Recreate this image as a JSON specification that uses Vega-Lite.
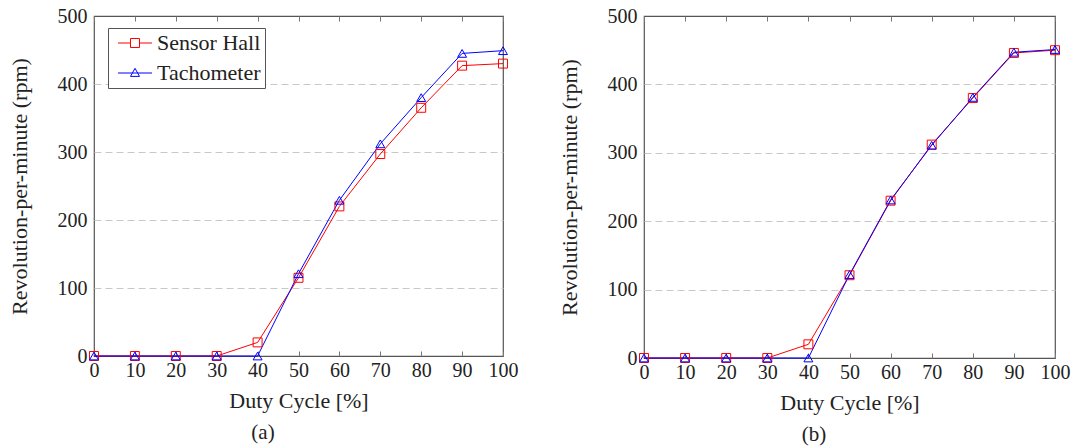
{
  "$schema": "https://vega.github.io/schema/vega-lite/v6.json",
  "padding": {"left": 7, "top": 5, "right": 4, "bottom": 0},
  "spacing": 38,
  "datasets": {
    "panelA": [
      {"duty": 0, "series": "Sensor Hall", "rpm": 0},
      {"duty": 10, "series": "Sensor Hall", "rpm": 0},
      {"duty": 20, "series": "Sensor Hall", "rpm": 0},
      {"duty": 30, "series": "Sensor Hall", "rpm": 0},
      {"duty": 40, "series": "Sensor Hall", "rpm": 20},
      {"duty": 50, "series": "Sensor Hall", "rpm": 115},
      {"duty": 60, "series": "Sensor Hall", "rpm": 220},
      {"duty": 70, "series": "Sensor Hall", "rpm": 297},
      {"duty": 80, "series": "Sensor Hall", "rpm": 365},
      {"duty": 90, "series": "Sensor Hall", "rpm": 427},
      {"duty": 100, "series": "Sensor Hall", "rpm": 430},
      {"duty": 0, "series": "Tachometer", "rpm": 0},
      {"duty": 10, "series": "Tachometer", "rpm": 0},
      {"duty": 20, "series": "Tachometer", "rpm": 0},
      {"duty": 30, "series": "Tachometer", "rpm": 0},
      {"duty": 40, "series": "Tachometer", "rpm": 0},
      {"duty": 50, "series": "Tachometer", "rpm": 121},
      {"duty": 60, "series": "Tachometer", "rpm": 229},
      {"duty": 70, "series": "Tachometer", "rpm": 312},
      {"duty": 80, "series": "Tachometer", "rpm": 380},
      {"duty": 90, "series": "Tachometer", "rpm": 445},
      {"duty": 100, "series": "Tachometer", "rpm": 449}
    ],
    "panelB": [
      {"duty": 0, "series": "Sensor Hall", "rpm": 0},
      {"duty": 10, "series": "Sensor Hall", "rpm": 0},
      {"duty": 20, "series": "Sensor Hall", "rpm": 0},
      {"duty": 30, "series": "Sensor Hall", "rpm": 0},
      {"duty": 40, "series": "Sensor Hall", "rpm": 20},
      {"duty": 50, "series": "Sensor Hall", "rpm": 121},
      {"duty": 60, "series": "Sensor Hall", "rpm": 230},
      {"duty": 70, "series": "Sensor Hall", "rpm": 312},
      {"duty": 80, "series": "Sensor Hall", "rpm": 380},
      {"duty": 90, "series": "Sensor Hall", "rpm": 446},
      {"duty": 100, "series": "Sensor Hall", "rpm": 450},
      {"duty": 0, "series": "Tachometer", "rpm": 0},
      {"duty": 10, "series": "Tachometer", "rpm": 0},
      {"duty": 20, "series": "Tachometer", "rpm": 0},
      {"duty": 30, "series": "Tachometer", "rpm": 0},
      {"duty": 40, "series": "Tachometer", "rpm": 0},
      {"duty": 50, "series": "Tachometer", "rpm": 122},
      {"duty": 60, "series": "Tachometer", "rpm": 231},
      {"duty": 70, "series": "Tachometer", "rpm": 311},
      {"duty": 80, "series": "Tachometer", "rpm": 381},
      {"duty": 90, "series": "Tachometer", "rpm": 447},
      {"duty": 100, "series": "Tachometer", "rpm": 451}
    ]
  },
  "config": {
    "font": "Liberation Serif",
    "view": {"stroke": "#555555", "strokeWidth": 1.2},
    "axis": {
      "labelFont": "Liberation Serif",
      "labelFontSize": 20,
      "labelColor": "#222222",
      "titleFont": "Liberation Serif",
      "titleFontSize": 22,
      "titleFontWeight": "normal",
      "titleColor": "#222222",
      "domain": false,
      "tickColor": "#777777",
      "tickWidth": 1,
      "grid": false
    },
    "legend": {"labelFont": "Liberation Serif", "labelFontSize": 22, "labelColor": "#222222"},
    "title": {"font": "Liberation Serif", "fontSize": 21, "fontWeight": "normal", "color": "#222222"}
  },
  "hconcat": [
    {
      "width": 409,
      "height": 340,
      "data": {"name": "panelA"},
      "title": {"text": "(a)", "orient": "bottom", "anchor": "middle", "frame": "bounds", "offset": 11},
      "resolve": {"axis": {"x": "independent"}},
      "layer": [
        {
          "mark": {"type": "line", "strokeWidth": 1},
          "encoding": {
            "x": {"field": "duty", "type": "quantitative", "scale": {"domain": [0, 100], "nice": false},
              "axis": {"orient": "bottom", "values": [0, 10, 20, 30, 40, 50, 60, 70, 80, 90, 100], "title": "Duty Cycle [%]", "offset": -5, "tickSize": 5, "labelPadding": 4, "titlePadding": 10, "labelFlush": false}},
            "y": {"field": "rpm", "type": "quantitative", "scale": {"domain": [0, 500], "nice": false},
              "axis": {"values": [0, 100, 200, 300, 400, 500], "title": "Revolution-per-minute (rpm)", "ticks": false, "labelPadding": 7, "titlePadding": 26, "grid": true, "gridDash": [7, 4],
                "gridColor": {"condition": {"test": "datum.value === 0 || datum.value === 500", "value": "transparent"}, "value": "#c8c8c8"}}},
            "color": {"field": "series", "type": "nominal",
              "scale": {"domain": ["Sensor Hall", "Tachometer"], "range": ["#ff0000", "#0000ff"]},
              "legend": {"orient": "none", "legendX": 14, "legendY": 12, "title": null, "strokeColor": "#555555", "fillColor": "white", "padding": 4,
                "labelFont": "Liberation Serif", "labelFontSize": 22, "labelColor": "#222222", "symbolSize": 289, "symbolStrokeWidth": 1, "symbolOffset": 12, "labelOffset": 11, "rowPadding": 8,
                "encode": {"symbols": {"update": {
                  "shape": {"signal": "datum.value === 'Sensor Hall' ? 'M-2,0H-0.53M0.53,0H2M-0.53,-0.53H0.53V0.53H-0.53Z' : 'M-2,0H2M0,-0.55L0.53,0.4L-0.53,0.4Z'"},
                  "fill": {"value": "transparent"}}}}}}
          }
        },
        {
          "transform": [{"filter": "datum.series === 'Sensor Hall'"}],
          "mark": {"type": "point", "shape": "square", "filled": false, "strokeWidth": 1, "size": 80, "opacity": 1},
          "encoding": {
            "x": {"field": "duty", "type": "quantitative",
              "axis": {"orient": "top", "values": [0, 10, 20, 30, 40, 50, 60, 70, 80, 90, 100], "labels": false, "title": null, "offset": -5, "tickSize": 5}},
            "y": {"field": "rpm", "type": "quantitative"},
            "color": {"field": "series", "type": "nominal", "legend": null}
          }
        },
        {
          "transform": [{"filter": "datum.series === 'Tachometer'"}],
          "mark": {"type": "point", "shape": "triangle-up", "filled": false, "strokeWidth": 1, "size": 80, "opacity": 1},
          "encoding": {
            "x": {"field": "duty", "type": "quantitative", "axis": null},
            "y": {"field": "rpm", "type": "quantitative"},
            "color": {"field": "series", "type": "nominal", "legend": null}
          }
        }
      ]
    },
    {
      "width": 411,
      "height": 342,
      "data": {"name": "panelB"},
      "title": {"text": "(b)", "orient": "bottom", "anchor": "middle", "frame": "bounds", "offset": 11},
      "resolve": {"axis": {"x": "independent"}},
      "layer": [
        {
          "mark": {"type": "line", "strokeWidth": 1},
          "encoding": {
            "x": {"field": "duty", "type": "quantitative", "scale": {"domain": [0, 100], "nice": false},
              "axis": {"orient": "bottom", "values": [0, 10, 20, 30, 40, 50, 60, 70, 80, 90, 100], "title": "Duty Cycle [%]", "offset": -5, "tickSize": 5, "labelPadding": 4, "titlePadding": 10, "labelFlush": false}},
            "y": {"field": "rpm", "type": "quantitative", "scale": {"domain": [0, 500], "nice": false},
              "axis": {"values": [0, 100, 200, 300, 400, 500], "title": "Revolution-per-minute (rpm)", "ticks": false, "labelPadding": 7, "titlePadding": 26, "grid": true, "gridDash": [7, 4],
                "gridColor": {"condition": {"test": "datum.value === 0 || datum.value === 500", "value": "transparent"}, "value": "#c8c8c8"}}},
            "color": {"field": "series", "type": "nominal",
              "scale": {"domain": ["Sensor Hall", "Tachometer"], "range": ["#ff0000", "#0000ff"]},
              "legend": {"orient": "none", "legendX": 14, "legendY": 12, "title": null, "strokeColor": "#555555", "fillColor": "white", "padding": 4,
                "labelFont": "Liberation Serif", "labelFontSize": 22, "labelColor": "#222222", "symbolSize": 289, "symbolStrokeWidth": 1, "symbolOffset": 12, "labelOffset": 11, "rowPadding": 8,
                "encode": {"symbols": {"update": {
                  "shape": {"signal": "datum.value === 'Sensor Hall' ? 'M-2,0H-0.53M0.53,0H2M-0.53,-0.53H0.53V0.53H-0.53Z' : 'M-2,0H2M0,-0.55L0.53,0.4L-0.53,0.4Z'"},
                  "fill": {"value": "transparent"}}}}}}
          }
        },
        {
          "transform": [{"filter": "datum.series === 'Sensor Hall'"}],
          "mark": {"type": "point", "shape": "square", "filled": false, "strokeWidth": 1, "size": 80, "opacity": 1},
          "encoding": {
            "x": {"field": "duty", "type": "quantitative",
              "axis": {"orient": "top", "values": [0, 10, 20, 30, 40, 50, 60, 70, 80, 90, 100], "labels": false, "title": null, "offset": -5, "tickSize": 5}},
            "y": {"field": "rpm", "type": "quantitative"},
            "color": {"field": "series", "type": "nominal", "legend": null}
          }
        },
        {
          "transform": [{"filter": "datum.series === 'Tachometer'"}],
          "mark": {"type": "point", "shape": "triangle-up", "filled": false, "strokeWidth": 1, "size": 80, "opacity": 1},
          "encoding": {
            "x": {"field": "duty", "type": "quantitative", "axis": null},
            "y": {"field": "rpm", "type": "quantitative"},
            "color": {"field": "series", "type": "nominal", "legend": null}
          }
        }
      ]
    }
  ]
}
